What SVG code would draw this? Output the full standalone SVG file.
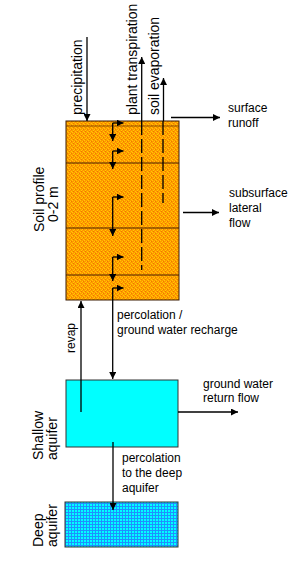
<svg xmlns="http://www.w3.org/2000/svg" width="306" height="565" viewBox="0 0 306 565">
<style>
  text { font-family: "Liberation Sans", Arial, sans-serif; fill: #000; }
  .h { font-size: 12px; }
  .v { font-size: 14px; }
  .ln { stroke: #000; stroke-width: 1.3; fill: none; }
  .dash { stroke: #000; stroke-width: 1.3; fill: none; stroke-dasharray: 14 4; }
  .layer { stroke: #4a2000; stroke-width: 1; fill: none; }
</style>
<defs>
  <pattern id="soil" width="4" height="4" patternUnits="userSpaceOnUse">
    <rect width="4" height="4" fill="#FF9900"/>
    <rect x="0" y="0" width="1" height="1" fill="#FFCC00"/>
    <rect x="2" y="1" width="1" height="1" fill="#FFCC00"/>
    <rect x="1" y="2" width="1" height="1" fill="#FFCC00"/>
    <rect x="3" y="3" width="1" height="1" fill="#FFCC00"/>
    <rect x="3" y="1" width="1" height="1" fill="#F07800"/>
    <rect x="1" y="3" width="1" height="1" fill="#F07800"/>
  </pattern>
  <pattern id="deep" width="3" height="3" patternUnits="userSpaceOnUse">
    <rect width="3" height="3" fill="#1E90FF"/>
    <rect x="0" y="0" width="2" height="2" fill="#00FFFF"/>
  </pattern>
  <marker id="ah" viewBox="0 0 10 10" refX="10" refY="5" markerWidth="7" markerHeight="7" markerUnits="userSpaceOnUse" orient="auto">
    <path d="M0,0 L10,5 L0,10 z" fill="#000"/>
  </marker>
</defs>

<g id="soil-profile">
  <rect x="66" y="121" width="113" height="179" fill="url(#soil)" stroke="#3a1a00" stroke-width="1"/>
  <line class="layer" x1="66" y1="126" x2="179" y2="126" stroke-opacity="0.6"/>
  <line class="layer" x1="66" y1="163" x2="179" y2="163"/>
  <line class="layer" x1="66" y1="228" x2="179" y2="228"/>
  <line class="layer" x1="66" y1="275" x2="179" y2="275"/>
  <text class="v" transform="translate(44,232) rotate(-90)">Soil profile</text>
  <text class="v" transform="translate(58,222) rotate(-90)">0-2 m</text>
</g>

<g id="shallow-aquifer">
  <rect x="66" y="380" width="112" height="67" fill="#00FFFF" stroke="#333" stroke-width="1"/>
  <text class="v" transform="translate(43,460) rotate(-90)">Shallow</text>
  <text class="v" transform="translate(57,460) rotate(-90)">aquifer</text>
</g>

<g id="deep-aquifer">
  <rect x="65" y="502" width="113" height="45" fill="url(#deep)" stroke="#333" stroke-width="1"/>
  <text class="v" transform="translate(43,547) rotate(-90)">Deep</text>
  <text class="v" transform="translate(57,547) rotate(-90)">aquifer</text>
</g>

<g id="connectors">
  <line class="ln" x1="87" y1="37" x2="87" y2="121" marker-end="url(#ah)"/>
  <line class="ln" x1="141.7" y1="121" x2="141.7" y2="57" marker-end="url(#ah)"/>
  <line class="dash" x1="141.7" y1="121" x2="141.7" y2="270"/>
  <line class="ln" x1="163.5" y1="121" x2="163.5" y2="78" marker-end="url(#ah)"/>
  <line class="dash" x1="163" y1="121" x2="163" y2="203"/>
  <line class="ln" x1="171" y1="117.5" x2="220" y2="117.5" marker-end="url(#ah)"/>
  <line class="ln" x1="183" y1="212.5" x2="219" y2="212.5" marker-end="url(#ah)"/>
  <path class="ln" d="M112.7,123 L112.7,141" marker-end="url(#ah)"/>
  <path class="ln" d="M112.7,123 L123.5,123" marker-end="url(#ah)"/>
  <path class="ln" d="M112.7,151 L112.7,169" marker-end="url(#ah)"/>
  <path class="ln" d="M112.7,151 L123.5,151" marker-end="url(#ah)"/>
  <path class="ln" d="M112.7,197 L112.7,236" marker-end="url(#ah)"/>
  <path class="ln" d="M112.7,197 L123.5,197" marker-end="url(#ah)"/>
  <path class="ln" d="M112.7,257 L112.7,281" marker-end="url(#ah)"/>
  <path class="ln" d="M112.7,257 L123.5,257" marker-end="url(#ah)"/>
  <path class="ln" d="M112.7,288 L123.5,288" marker-end="url(#ah)"/>
  <line class="ln" x1="112.7" y1="288" x2="112.7" y2="379" marker-end="url(#ah)"/>
  <line class="ln" x1="81" y1="412" x2="81" y2="301" marker-end="url(#ah)"/>
  <line class="ln" x1="178" y1="412" x2="238" y2="412" marker-end="url(#ah)"/>
  <line class="ln" x1="113" y1="442" x2="113" y2="510" marker-end="url(#ah)"/>
</g>

<g id="labels">
  <text class="v" transform="translate(82,115) rotate(-90)">precipitation</text>
  <text class="v" transform="translate(137,115) rotate(-90)">plant transpiration</text>
  <text class="v" transform="translate(159,115) rotate(-90)">soil evaporation</text>
  <text class="h" x="228" y="112">surface</text>
  <text class="h" x="228" y="127">runoff</text>
  <text class="h" x="229" y="197">subsurface</text>
  <text class="h" x="229" y="212">lateral</text>
  <text class="h" x="229" y="227">flow</text>
  <text class="h" x="117" y="319">percolation /</text>
  <text class="h" x="117" y="334">ground water recharge</text>
  <text class="v" style="font-size:12px" transform="translate(75,353) rotate(-90)">revap</text>
  <text class="h" x="203" y="388">ground water</text>
  <text class="h" x="203" y="402">return flow</text>
  <text class="h" x="122" y="462">percolation</text>
  <text class="h" x="122" y="477">to the deep</text>
  <text class="h" x="122" y="492">aquifer</text>
</g>
</svg>
